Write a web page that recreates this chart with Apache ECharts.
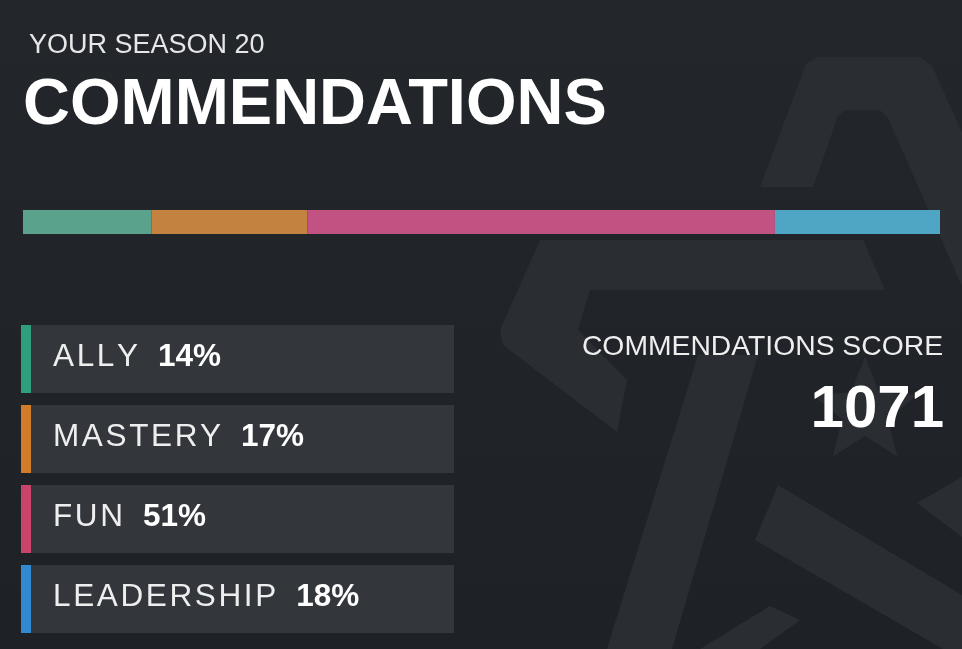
<!DOCTYPE html>
<html>
<head>
<meta charset="utf-8">
<script src="https://cdn.jsdelivr.net/npm/echarts@6/dist/echarts.min.js"></script>
<style>
html,body{margin:0;padding:0;background:#22262a;}
#chart{width:962px;height:649px;}
</style>
</head>
<body>
<div id="chart"></div>
<script>
// ---- data ----
const categories = ['ALLY', 'MASTERY', 'FUN', 'LEADERSHIP'];
const shares = [14, 17, 51, 18];
const barColors = ['#5aa28b', '#c48240', '#c25282', '#4fa6c4'];
const stripColors = ['#2f9e7c', '#d27c2a', '#c9436a', '#3189cf'];
const subtitleText = 'YOUR SEASON 20';
const titleText = 'COMMENDATIONS';
const scoreLabel = 'COMMENDATIONS SCORE';
const scoreValue = 1071;

const FONT = '"Liberation Sans", Arial, Helvetica, sans-serif';
const LOGO = '#2a2e33';

function spaced(s) { return s.split('').join('\u200A'); }

function starPoints(cx, cy, R, r) {
  const pts = [];
  for (let i = 0; i < 10; i++) {
    const a = -Math.PI / 2 + i * Math.PI / 5;
    const rad = i % 2 === 0 ? R : r;
    pts.push([cx + rad * Math.cos(a), cy + rad * Math.sin(a)]);
  }
  return pts;
}

const graphics = [];
// faint background emblem
const logoShapes = [
  [[760,187],[806,64],[818,57],[920,57],[932,66],[1060,350],[990,350],[888,118],[880,110],[845,110],[838,116],[813,187]],
  [[540,240],[863,240],[885,290],[590,290],[578,330],[627,380],[617,432],[503,345],[500,330]],
  [[698,355],[758,355],[672,649],[607,649]],
  [[778,485],[962,595],[962,660],[755,540]],
  [[962,477],[917,503],[962,537]],
  [[700,649],[770,606],[800,620],[760,649]]
];
logoShapes.forEach(p => graphics.push({
  type: 'polygon', z: -10, silent: true,
  shape: { points: p }, style: { fill: LOGO }
}));
graphics.push({ type: 'polygon', z: -10, silent: true,
  shape: { points: starPoints(865, 412, 55, 24) }, style: { fill: LOGO } });

// titles
graphics.push({ type: 'text', z: 10, silent: true,
  style: { text: subtitleText, x: 29, y: 46, fill: '#e6e6e6', font: '400 27px ' + FONT, verticalAlign: 'middle' } });
graphics.push({ type: 'text', z: 10, silent: true,
  style: { text: titleText, x: 23, y: 106, fill: '#ffffff', font: '700 65px ' + FONT, verticalAlign: 'middle' } });

// legend boxes
categories.forEach((c, i) => {
  const top = 325 + i * 80;
  graphics.push({ type: 'rect', z: 5, silent: true,
    shape: { x: 21, y: top, width: 433, height: 68 }, style: { fill: '#33373c' } });
  graphics.push({ type: 'rect', z: 6, silent: true,
    shape: { x: 21, y: top, width: 10, height: 68 }, style: { fill: stripColors[i] } });
  graphics.push({ type: 'text', z: 10, silent: true,
    style: {
      x: 53, y: top + 32,
      text: '{n|' + spaced(c) + '}{p|' + shares[i] + '%}',
      verticalAlign: 'middle',
      rich: {
        n: { fill: '#eeeeee', font: '400 31.5px ' + FONT },
        p: { fill: '#ffffff', font: '700 31.5px ' + FONT, padding: [0, 0, 0, 20] }
      }
    } });
});

// score
graphics.push({ type: 'text', z: 10, silent: true,
  style: { text: scoreLabel, x: 943, y: 347, fill: '#eeeeee', font: '400 28.3px ' + FONT, align: 'right', verticalAlign: 'middle' } });
graphics.push({ type: 'text', z: 10, silent: true,
  style: { text: String(scoreValue), x: 944, y: 410, fill: '#ffffff', font: '700 60px ' + FONT, align: 'right', verticalAlign: 'middle' } });

const chart = echarts.init(document.getElementById('chart'), null, { renderer: 'canvas' });
chart.setOption({
  animation: false,
  backgroundColor: {
    type: 'linear', x: 0, y: 0, x2: 0, y2: 1,
    colorStops: [{ offset: 0, color: '#23272b' }, { offset: 1, color: '#1e2226' }]
  },
  grid: { left: 23, top: 210, width: 917, height: 24 },
  xAxis: { type: 'value', min: 0, max: 100, show: false },
  yAxis: { type: 'category', data: ['share'], show: false },
  series: categories.map((c, i) => ({
    type: 'bar', name: c, stack: 'total', barWidth: 24, silent: true, z: 3,
    data: [shares[i]], itemStyle: { color: barColors[i] }
  })),
  graphic: { elements: graphics }
});
</script>
</body>
</html>
